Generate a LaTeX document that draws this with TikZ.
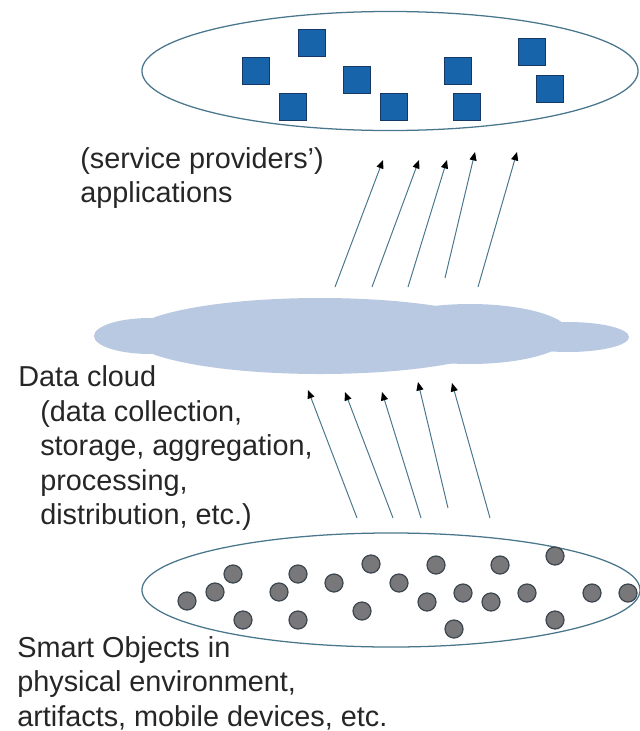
\documentclass[tikz,border=0pt]{standalone}
\usepackage{fontspec}
\setmainfont{Liberation Sans}
\usetikzlibrary{shapes.geometric,arrows.meta,positioning}

\definecolor{rimteal}{RGB}{74,118,140}
\definecolor{appblue}{RGB}{24,100,170}
\definecolor{appedge}{RGB}{22,56,100}
\definecolor{cloudblue}{RGB}{185,201,226}
\definecolor{objgrey}{RGB}{120,120,122}
\definecolor{objedge}{RGB}{62,72,80}

\begin{document}
\begin{tikzpicture}[
    x=0.025cm, y=-0.025cm,
    font=\fontsize{20.5}{24.5}\selectfont,
    layer/.style={draw=rimteal, ellipse, line width=0.9pt, inner sep=0pt},
    appbox/.style={draw=appedge, fill=appblue, line width=0.7pt, minimum size=0.675cm, inner sep=0pt},
    objdot/.style={draw=objedge, fill=objgrey, circle, line width=0.9pt, minimum size=0.45cm, inner sep=0pt},
    label/.style={anchor=north west, align=left, inner sep=0pt, text=black!85},
    flow/.style={-{Triangle[length=6pt, width=5pt, color=black]}, draw=rimteal, line width=0.7pt}
]
\useasboundingbox (0,0) rectangle (639,731);

% Applications layer
\node[layer, minimum width=12.4cm, minimum height=2.975cm] (apps) at (390,71) {};
\foreach \i/\x/\y in {1/312/43, 2/256/71, 3/293/107, 4/357/80, 5/394/107,
                      6/458/71, 7/467/107, 8/532/52, 9/550/89}
  \node[appbox] (app\i) at (\x,\y) {};

\node[label] (appstext) at (80,147) {(service providers')\\applications};

% Data cloud
\fill[cloudblue] (150,336) ellipse [x radius=56, y radius=18];
\fill[cloudblue] (320,336) ellipse [x radius=190, y radius=38];
\fill[cloudblue] (470,334) ellipse [x radius=100, y radius=30];
\fill[cloudblue] (568,337) ellipse [x radius=61, y radius=15];

\node[label] (cloudtext) at (18,365) {Data cloud};
\node[label] (cloudtasks) at (40,400) {(data collection,\\storage, aggregation,\\processing,\\distribution, etc.)};

% Smart objects layer
\node[layer, minimum width=12.45cm, minimum height=2.85cm] (objects) at (391,590) {};
\foreach \i/\x/\y in {1/187/601, 2/215/592, 3/233/574, 4/243/620, 5/279/592,
                      6/298/574, 7/298/620, 8/334/583, 9/371/564, 10/362/611,
                      11/399/583, 12/436/565, 13/427/602, 14/463/593, 15/454/629,
                      16/491/602, 17/500/565, 18/527/593, 19/555/556, 20/555/620,
                      21/592/593, 22/628/593}
  \node[objdot] (obj\i) at (\x,\y) {};

\node[label] (objtext) at (17,636) {Smart Objects in\\physical environment,\\artifacts, mobile devices, etc.};

% Upward data flows
\foreach \i/\tx/\ty/\hx/\hy in {1/335/287/383/160, 2/372/287/419/160, 3/408/287/447/160,
                                4/445/278/475/152, 5/478/287/517/152} {
  \coordinate (up\i-tail) at (\tx,\ty);
  \coordinate (up\i-head) at (\hx,\hy);
  \draw[flow] (up\i-tail) -- (up\i-head);
}
\foreach \i/\tx/\ty/\hx/\hy in {1/357/518/308/390, 2/393/518/345/392, 3/421/518/382/392,
                                4/448/508/418/382, 5/490/518/452/383} {
  \coordinate (in\i-tail) at (\tx,\ty);
  \coordinate (in\i-head) at (\hx,\hy);
  \draw[flow] (in\i-tail) -- (in\i-head);
}

\end{tikzpicture}
\end{document}
